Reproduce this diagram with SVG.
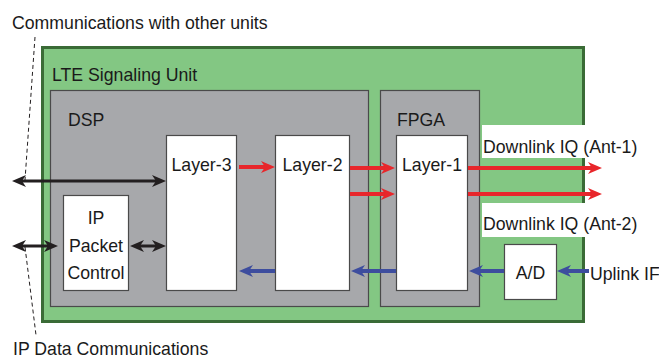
<svg xmlns="http://www.w3.org/2000/svg" width="659" height="359" viewBox="0 0 659 359">
<style>
text{font-family:"Liberation Sans",Arial,sans-serif;font-size:17.7px;fill:#1a1a1a}
.c{text-anchor:middle}
.chip{fill:#a7a8ab;stroke:#4a4a4a;stroke-width:1.2}
.blk{fill:#fff;stroke:#4a4a4a;stroke-width:1.2}
.red{stroke:#e8262b;stroke-width:4;fill:none}
.blue{stroke:#3d4d9e;stroke-width:4;fill:none}
.dbl{stroke:#231f20;stroke-width:3;fill:none}
.dash{stroke:#231f20;stroke-width:1;stroke-dasharray:4 3;fill:none}
</style>
<defs>
<marker id="hr" viewBox="0 0 14 12" refX="5" refY="6" markerWidth="14" markerHeight="12" markerUnits="userSpaceOnUse" orient="auto-start-reverse"><path d="M0,0 L14,6 L0,12 L4,6 z" fill="#e8262b"/></marker>
<marker id="hb" viewBox="0 0 14 12" refX="5" refY="6" markerWidth="14" markerHeight="12" markerUnits="userSpaceOnUse" orient="auto-start-reverse"><path d="M0,0 L14,6 L0,12 L4,6 z" fill="#3d4d9e"/></marker>
<marker id="hk" viewBox="0 0 14 12" refX="5" refY="6" markerWidth="14" markerHeight="12" markerUnits="userSpaceOnUse" orient="auto-start-reverse"><path d="M0,0 L14,6 L0,12 L4,6 z" fill="#231f20"/></marker>
</defs>
<rect width="659" height="359" fill="#fff"/>
<g id="lte-unit">
<rect x="42.5" y="47.5" width="541" height="274" fill="#83c783" stroke="#3a6b36" stroke-width="3"/>
<text x="52" y="81">LTE Signaling Unit</text>
</g>
<g id="dsp">
<rect class="chip" x="50.5" y="90.5" width="318" height="216"/>
<text x="68" y="126">DSP</text>
</g>
<g id="fpga">
<rect class="chip" x="380.5" y="90.5" width="99" height="216"/>
<text x="397" y="126">FPGA</text>
</g>
<g id="layer3">
<rect class="blk" x="166.5" y="135.5" width="70" height="155"/>
<text class="c" x="201.5" y="171">Layer-3</text>
</g>
<g id="layer2">
<rect class="blk" x="275.5" y="135.5" width="74" height="155"/>
<text class="c" x="312.5" y="171">Layer-2</text>
</g>
<g id="layer1">
<rect class="blk" x="396.5" y="135.5" width="71" height="155"/>
<text class="c" x="432" y="171">Layer-1</text>
</g>
<g id="ip-packet-control">
<rect class="blk" x="63.5" y="195.5" width="65" height="95"/>
<text class="c" x="96" y="224">IP</text>
<text class="c" x="96" y="252">Packet</text>
<text class="c" x="96" y="279">Control</text>
</g>
<g id="ad">
<rect class="blk" x="504.5" y="244.5" width="52" height="55"/>
<text class="c" x="530.5" y="279">A/D</text>
</g>
<g id="label-ant1">
<rect x="482" y="125" width="108" height="33" fill="#fff"/>
<text x="483" y="153">Downlink IQ (Ant-1)</text>
</g>
<g id="label-ant2">
<rect x="482" y="203" width="108" height="34" fill="#fff"/>
<text x="483" y="230">Downlink IQ (Ant-2)</text>
</g>
<g id="label-uplink"><text x="590" y="280">Uplink IF</text></g>
<g id="label-comm"><text x="12" y="29">Communications with other units</text></g>
<g id="label-ipdata"><text x="13" y="355">IP Data Communications</text></g>
<g id="connectors">
<line class="red" x1="239" y1="167" x2="266" y2="167" marker-end="url(#hr)"/>
<line class="red" x1="350" y1="168" x2="386" y2="168" marker-end="url(#hr)"/>
<line class="red" x1="350" y1="194" x2="386" y2="194" marker-end="url(#hr)"/>
<line class="red" x1="468" y1="168" x2="593" y2="168" marker-end="url(#hr)"/>
<line class="red" x1="468" y1="194" x2="593" y2="194" marker-end="url(#hr)"/>
<line class="blue" x1="275" y1="271" x2="248" y2="271" marker-end="url(#hb)"/>
<line class="blue" x1="396" y1="271" x2="360" y2="271" marker-end="url(#hb)"/>
<line class="blue" x1="504" y1="271" x2="478" y2="271" marker-end="url(#hb)"/>
<line class="blue" x1="589" y1="271" x2="566" y2="271" marker-end="url(#hb)"/>
<line class="dbl" x1="21" y1="181" x2="157" y2="181" marker-start="url(#hk)" marker-end="url(#hk)"/>
<line class="dbl" x1="21" y1="246" x2="49" y2="246" marker-start="url(#hk)" marker-end="url(#hk)"/>
<line class="dbl" x1="139" y1="246" x2="157" y2="246" marker-start="url(#hk)" marker-end="url(#hk)"/>
<line class="dash" x1="35" y1="37" x2="25" y2="180"/>
<line class="dash" x1="25" y1="247" x2="36" y2="335"/>
</g>
</svg>
